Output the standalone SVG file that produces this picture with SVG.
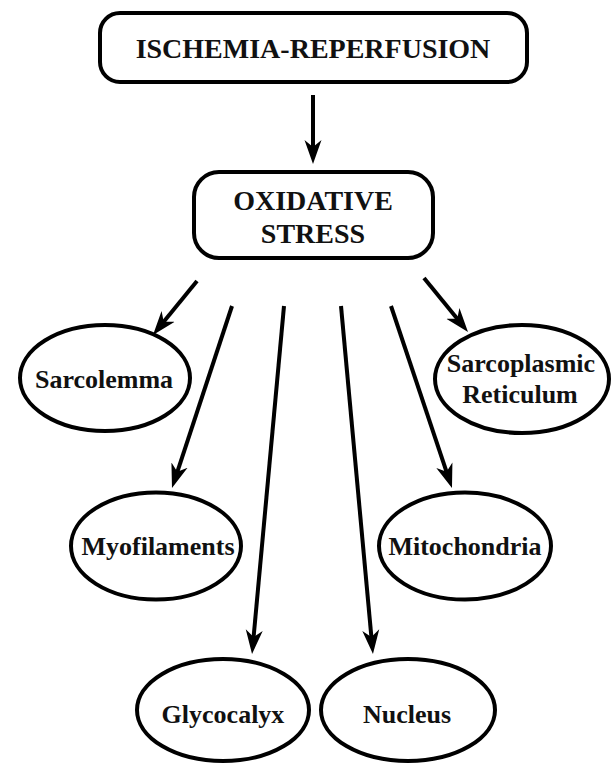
<svg xmlns="http://www.w3.org/2000/svg" width="612" height="766" viewBox="0 0 612 766">
<defs>
<style>
.box{fill:#fff;stroke:#000;stroke-width:4}
.node{fill:#fff;stroke:#000;stroke-width:4}
.t{font-family:"Liberation Serif","Times New Roman",serif;font-weight:bold;fill:#111;text-anchor:middle}
.big{font-size:28px}
.small{font-size:26px}
.conn line{stroke:#000;stroke-width:4;fill:none;marker-end:url(#arr)}
</style>
<marker id="arr" viewBox="0 -10 24 20" refX="8" refY="0" markerWidth="24" markerHeight="20" markerUnits="userSpaceOnUse" orient="auto">
<path d="M24,0 L0,-8.5 L7,0 L0,8.5 Z" fill="#000"/>
</marker>
</defs>
<rect width="612" height="766" fill="#fff"/>
<g id="ischemia">
<rect class="box" x="100" y="13" width="427" height="69" rx="20"/>
<text class="t big" x="313" y="58">ISCHEMIA-REPERFUSION</text>
</g>
<g id="oxidative">
<rect class="box" x="194" y="172" width="239" height="86" rx="25"/>
<text class="t big" x="313" y="210">OXIDATIVE</text>
<text class="t big" x="313" y="243">STRESS</text>
</g>
<g id="sarcolemma">
<ellipse class="node" cx="105" cy="378" rx="85" ry="53"/>
<text class="t small" x="104" y="388">Sarcolemma</text>
</g>
<g id="sarcoplasmic">
<ellipse class="node" cx="522" cy="379" rx="87" ry="54"/>
<text class="t small" x="521" y="372">Sarcoplasmic</text>
<text class="t small" x="520" y="403">Reticulum</text>
</g>
<g id="myofilaments">
<ellipse class="node" cx="156" cy="546" rx="85" ry="53.5"/>
<text class="t small" x="158" y="555">Myofilaments</text>
</g>
<g id="mitochondria">
<ellipse class="node" cx="465" cy="546" rx="86" ry="53.5"/>
<text class="t small" x="465" y="555">Mitochondria</text>
</g>
<g id="glycocalyx">
<ellipse class="node" cx="223" cy="710" rx="86" ry="51"/>
<text class="t small" x="223" y="723">Glycocalyx</text>
</g>
<g id="nucleus">
<ellipse class="node" cx="408" cy="710" rx="87" ry="51"/>
<text class="t small" x="407" y="723">Nucleus</text>
</g>
<g id="connectors" class="conn">
<line x1="313" y1="95" x2="313" y2="148"/>
<line x1="197" y1="281" x2="163.1" y2="322.6"/>
<line x1="424" y1="278" x2="457.9" y2="319.6"/>
<line x1="232" y1="306" x2="177" y2="472.8"/>
<line x1="391" y1="306" x2="446.9" y2="472.8"/>
<line x1="284" y1="306" x2="253.5" y2="638.1"/>
<line x1="341" y1="306" x2="371.5" y2="638.1"/>
</g>
</svg>
